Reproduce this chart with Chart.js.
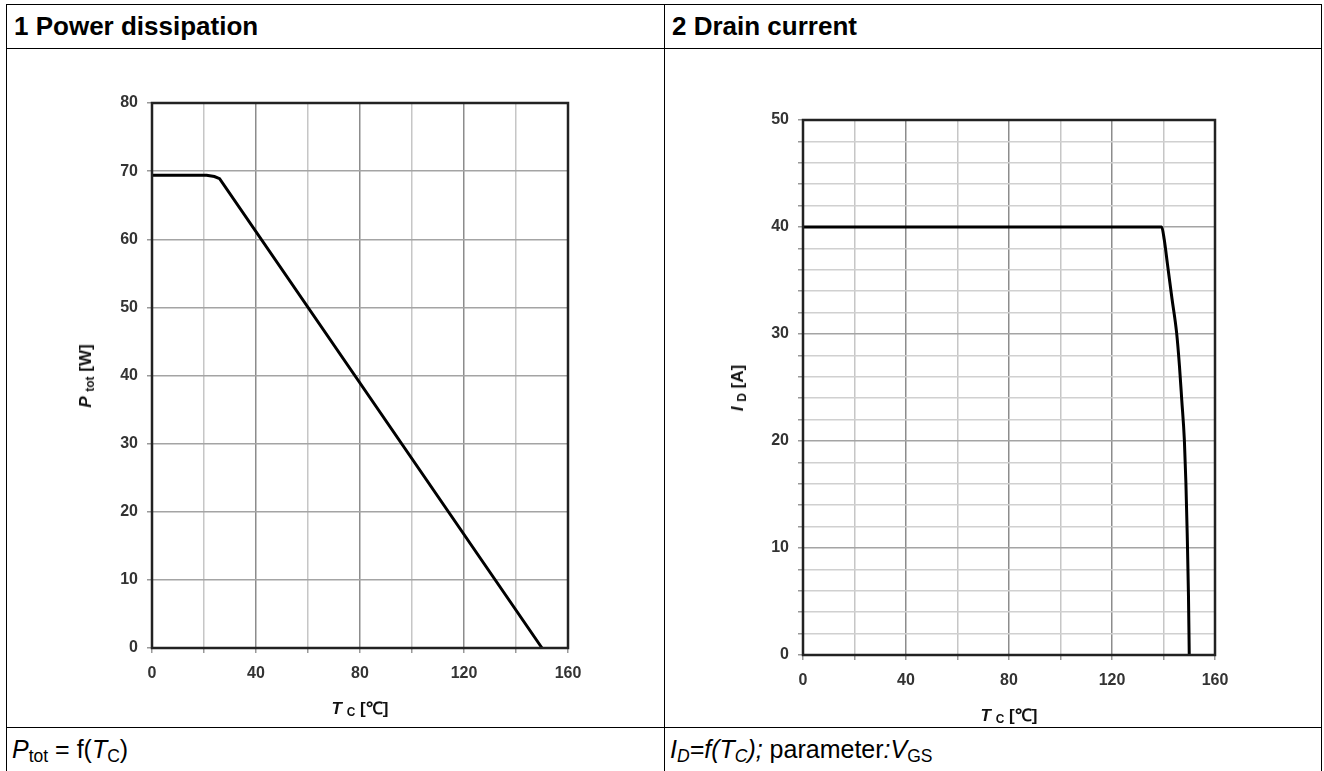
<!DOCTYPE html>
<html>
<head>
<meta charset="utf-8">
<script src="https://cdn.jsdelivr.net/npm/chart.js@4.4.1/dist/chart.umd.min.js"></script>
<style>
  body { margin: 0; background: #fff; font-family: "Liberation Sans", Arial, sans-serif; }
  #page { position: relative; width: 1324px; height: 771px; overflow: hidden; }
  .line { position: absolute; background: #000; }
  .cellText { position: absolute; color: #000; white-space: nowrap; }
  .head { font-weight: bold; font-size: 26px; top: 11px; }
  .foot { font-size: 25px; top: 735px; }
  .axt { position: absolute; font-weight: bold; font-size: 17px; color: #111; white-space: nowrap;
         transform: translate(-50%, -50%); }
  .axt.rot { transform: translate(-50%, -50%) rotate(-90deg); }
  sub { font-size: 70%; vertical-align: -0.25em; line-height: 0; }
  canvas { position: absolute; }
</style>
</head>
<body>
<div id="page">
  <div class="line" style="left:6px;top:4px;width:1316px;height:1px"></div>
  <div class="line" style="left:6px;top:48px;width:1316px;height:1px"></div>
  <div class="line" style="left:6px;top:727px;width:1316px;height:1px"></div>
  <div class="line" style="left:6px;top:4px;width:1px;height:780px"></div>
  <div class="line" style="left:664px;top:4px;width:1px;height:780px"></div>
  <div class="line" style="left:1321px;top:4px;width:1px;height:780px"></div>

  <div class="cellText head" style="left:14px">1 Power dissipation</div>
  <div class="cellText head" style="left:672px">2 Drain current</div>

  <div class="cellText foot" style="left:12px"><i>P</i><sub>tot</sub> = f(<i>T</i><sub>C</sub>)</div>
  <div class="cellText foot" style="left:670px"><i>I<sub>D</sub>=f(T<sub>C</sub>);</i> parameter<i>:</i><i>V</i><sub>GS</sub></div>

  <canvas id="power" width="657" height="678" style="left:7px;top:49px"></canvas>
  <canvas id="drain" width="657" height="678" style="left:665px;top:49px"></canvas>

  <div class="axt rot" style="left:86px;top:376px"><i>P</i> <sub>tot</sub> [W]</div>
  <div class="axt" style="left:360px;top:707px"><i>T</i> <sub>C</sub> [℃]</div>
  <div class="axt rot" style="left:738px;top:388px"><i>I</i> <sub>D</sub> [A]</div>
  <div class="axt" style="left:1009px;top:714px"><i>T</i> <sub>C</sub> [℃]</div>
</div>

<script>
// case temperature ticks shared by both charts
const tcTickLabels = [0, 40, 80, 120, 160];

// chart 1: power dissipation vs case temperature
const tcPower = [0, 21, 24, 26, 150];
const pTot    = [69.4, 69.4, 69.2, 68.9, 0];
const powerTickLabels = [0, 10, 20, 30, 40, 50, 60, 70, 80];

// chart 2: drain current vs case temperature
const tcDrain = [0, 139.3, 140.3, 141.5, 143.3, 145.1, 146.2, 147.1, 148.1, 148.7, 149.2, 149.7, 150];
const iD      = [40, 40, 38.8, 36.6, 33.3, 30.1, 27, 23.8, 20.1, 16.1, 11.4, 5.5, 0];
const drainTickLabels = [0, 10, 20, 30, 40, 50];

const tickFont = { family: "'Liberation Sans', Arial", size: 16, weight: 'bold' };

// plot frame drawn on all four sides
const framePlugin = {
  id: 'frame',
  afterDraw(chart) {
    const a = chart.chartArea;
    const ctx = chart.ctx;
    ctx.save();
    ctx.strokeStyle = '#222';
    ctx.lineWidth = 2.5;
    ctx.strokeRect(a.left, a.top, a.right - a.left, a.bottom - a.top);
    ctx.restore();
  }
};

function points(xs, ys) {
  return xs.map((x, i) => ({ x: x, y: ys[i] }));
}

function makeChart(id, xs, ys, yMax, yStep, yLabels, pad, yWidth, xHeight, smooth) {
  const ctx = document.getElementById(id);
  return new Chart(ctx, {
    type: 'scatter',
    data: {
      datasets: [{
        data: points(xs, ys),
        showLine: true,
        borderColor: '#000',
        borderWidth: 3,
        pointRadius: 0,
        cubicInterpolationMode: smooth ? 'monotone' : 'default',
        tension: 0,
        clip: false
      }]
    },
    options: {
      responsive: false,
      animation: false,
      devicePixelRatio: 1,
      layout: { padding: pad },
      plugins: { legend: { display: false }, tooltip: { enabled: false } },
      scales: {
        x: {
          type: 'linear',
          min: 0, max: 160,
          border: { display: false },
          grid: {
            color: c => (c.tick && c.tick.value % 40 === 0) ? '#8c8c8c' : '#c6c6c6',
            tickColor: '#999',
            lineWidth: 1.5,
            tickLength: 5
          },
          ticks: {
            stepSize: 20,
            maxTicksLimit: 100,
            autoSkip: false,
            maxRotation: 0,
            padding: 11,
            color: '#333',
            font: tickFont,
            callback: v => tcTickLabels.includes(v) ? String(v) : ''
          },
          afterFit: s => { s.height = xHeight; }
        },
        y: {
          type: 'linear',
          min: 0, max: yMax,
          border: { display: false },
          grid: {
            color: c => (c.tick && c.tick.value % 10 === 0) ? '#a4a4a4' : '#d0d0d0',
            tickColor: '#999',
            lineWidth: 1.5,
            tickLength: 5
          },
          ticks: {
            stepSize: yStep,
            maxTicksLimit: 100,
            autoSkip: false,
            padding: 9,
            color: '#333',
            font: tickFont,
            callback: v => yLabels.includes(v) ? String(v) : ''
          },
          afterFit: s => { s.width = yWidth; }
        }
      }
    },
    plugins: [framePlugin]
  });
}

makeChart('power', tcPower, pTot, 80, 10, powerTickLabels,
  { left: 0, top: 54, right: 96, bottom: 0 }, 145, 79, false);
makeChart('drain', tcDrain, iD, 50, 2, drainTickLabels,
  { left: 0, top: 71, right: 107, bottom: 0 }, 138, 72, true);
</script>
</body>
</html>
